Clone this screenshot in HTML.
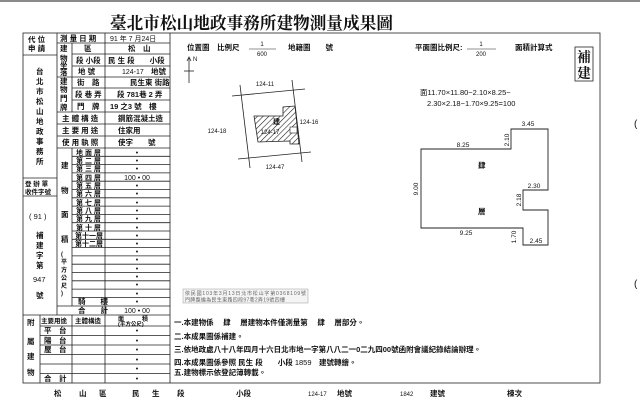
<!DOCTYPE html>
<html><head><meta charset="utf-8"><style>
html,body{margin:0;padding:0;background:#fff;}
svg{display:block;}
text{font-family:"Liberation Sans","Noto Sans CJK TC",sans-serif;fill:#111;}
.c{font-family:"Liberation Sans","Noto Sans CJK TC",sans-serif;font-weight:bold;font-size:7.5px;}
.n{font-size:7px;}
</style></head><body>
<svg width="640" height="406" viewBox="0 0 640 406" xmlns="http://www.w3.org/2000/svg">
<rect x="0" y="0" width="640" height="2" fill="#8a8a8a"/>
<text x="110" y="29" font-size="17" font-weight="bold" textLength="283" lengthAdjust="spacingAndGlyphs" style="font-family:'Noto Serif CJK SC','Noto Sans CJK TC',serif">臺北市松山地政事務所建物測量成果圖</text>
<g stroke="#222" fill="none" stroke-width="0.8">
<rect x="23" y="33" width="577" height="350"/>
<line x1="170" y1="33" x2="170" y2="383"/>
<line x1="57" y1="33" x2="57" y2="315"/>
<line x1="105" y1="33" x2="105" y2="383"/>
<line x1="72" y1="43" x2="72" y2="112"/>
<line x1="72" y1="148" x2="72" y2="306"/>
<line x1="72" y1="315" x2="72" y2="383"/>
<line x1="40" y1="315" x2="40" y2="383"/>
<line x1="23" y1="55" x2="57" y2="55"/>
<line x1="23" y1="178" x2="57" y2="178"/>
<line x1="23" y1="196" x2="57" y2="196"/>
<line x1="23" y1="315" x2="170" y2="315"/>
<line x1="40" y1="326" x2="170" y2="326"/>
<line x1="57" y1="43" x2="170" y2="43"/>
<line x1="72" y1="54" x2="170" y2="54"/>
<line x1="72" y1="66" x2="170" y2="66"/>
<line x1="57" y1="77" x2="170" y2="77"/>
<line x1="72" y1="88" x2="170" y2="88"/>
<line x1="72" y1="100" x2="170" y2="100"/>
<line x1="57" y1="112" x2="170" y2="112"/>
<line x1="57" y1="124" x2="170" y2="124"/>
<line x1="57" y1="136" x2="170" y2="136"/>
<line x1="57" y1="148" x2="170" y2="148"/>
<line x1="72" y1="156.3" x2="170" y2="156.3"/>
<line x1="72" y1="164.6" x2="170" y2="164.6"/>
<line x1="72" y1="172.9" x2="170" y2="172.9"/>
<line x1="72" y1="181.2" x2="170" y2="181.2"/>
<line x1="72" y1="189.5" x2="170" y2="189.5"/>
<line x1="72" y1="197.8" x2="170" y2="197.8"/>
<line x1="72" y1="206.1" x2="170" y2="206.1"/>
<line x1="72" y1="214.4" x2="170" y2="214.4"/>
<line x1="72" y1="222.7" x2="170" y2="222.7"/>
<line x1="72" y1="231" x2="170" y2="231"/>
<line x1="72" y1="239.3" x2="170" y2="239.3"/>
<line x1="72" y1="247.6" x2="170" y2="247.6"/>
<line x1="72" y1="255.9" x2="170" y2="255.9"/>
<line x1="72" y1="264.2" x2="170" y2="264.2"/>
<line x1="72" y1="272.5" x2="170" y2="272.5"/>
<line x1="72" y1="280.8" x2="170" y2="280.8"/>
<line x1="72" y1="289.1" x2="170" y2="289.1"/>
<line x1="72" y1="297.4" x2="170" y2="297.4"/>
<line x1="57" y1="306" x2="170" y2="306"/>
<line x1="40" y1="335.5" x2="170" y2="335.5"/>
<line x1="40" y1="345" x2="170" y2="345"/>
<line x1="40" y1="354.5" x2="170" y2="354.5"/>
<line x1="40" y1="364" x2="170" y2="364"/>
<line x1="40" y1="373.5" x2="170" y2="373.5"/>
</g>
<g class="c">
<text x="28" y="42">代 位</text><text x="28" y="51">申 請</text>
<text x="60" y="41">測 量 日 期</text><text x="110" y="41" class="n" font-weight="normal">91 年 7 月24日</text>
<text x="60" y="51">建</text><text x="60" y="61">物</text><text x="60" y="68">坐</text><text x="60" y="75">落</text>
<text x="84" y="51">區</text><text x="128" y="51">松　山</text>
<text x="76" y="63">段 小段</text><text x="108" y="63">民 生 段　　小段</text>
<text x="78" y="74">地 號</text><text x="122" y="74" font-weight="normal" font-size="7">124-17</text><text x="151" y="74">地號</text>
<text x="60" y="84">建</text><text x="60" y="92">物</text><text x="60" y="101">門</text><text x="60" y="110">牌</text>
<text x="77" y="85">街　路</text><text x="130" y="85">民生東 街路</text>
<text x="75" y="97">段 巷 弄</text><text x="117" y="97">段 781巷 2 弄</text>
<text x="77" y="109">門　牌</text><text x="110" y="109">19 之3 號　樓</text>
<text x="62" y="121">主 體 構 造</text><text x="118" y="121">鋼筋混凝土造</text>
<text x="62" y="133">主 要 用 途</text><text x="118" y="133">住家用</text>
<text x="62" y="145">使 用 執 照</text><text x="118" y="145">使字　　號</text>
<text x="36" y="74">台</text><text x="36" y="84">北</text><text x="36" y="94">市</text><text x="36" y="104">松</text><text x="36" y="114">山</text><text x="36" y="124">地</text><text x="36" y="134">政</text><text x="36" y="144">事</text><text x="36" y="154">務</text><text x="36" y="164">所</text>
<text x="25" y="186" font-size="6.5">登 辦 單</text><text x="25" y="194" font-size="6.5">收件字號</text>
<text x="29" y="219" font-weight="normal">( 91 )</text>
<text x="36" y="238">補</text><text x="36" y="248">建</text><text x="36" y="258">字</text><text x="36" y="268">第</text>
<text x="33" y="282" font-weight="normal">947</text>
<text x="36" y="298">號</text>
<text x="61" y="168">建</text><text x="61" y="193">物</text><text x="61" y="217">面</text><text x="61" y="242">積</text>
<text x="61" y="256" font-size="6">(</text><text x="61" y="264" font-size="6">平</text><text x="61" y="272" font-size="6">方</text><text x="61" y="280" font-size="6">公</text><text x="61" y="288" font-size="6">尺</text><text x="61" y="295" font-size="6">)</text>
<text x="76" y="155" font-size="7">地 面 層</text>
<text x="76" y="163" font-size="7">第 二 層</text>
<text x="76" y="171" font-size="7">第 三 層</text>
<text x="76" y="180" font-size="7">第 四 層</text>
<text x="76" y="188" font-size="7">第 五 層</text>
<text x="76" y="196" font-size="7">第 六 層</text>
<text x="76" y="205" font-size="7">第 七 層</text>
<text x="76" y="213" font-size="7">第 八 層</text>
<text x="76" y="221" font-size="7">第 九 層</text>
<text x="76" y="230" font-size="7">第 十 層</text>
<text x="75" y="238" font-size="7">第十一層</text>
<text x="75" y="246" font-size="7">第十二層</text>
<text x="78" y="304">騎　　樓</text>
<text x="78" y="313">合　　計</text>
<text x="27" y="325">附</text><text x="27" y="344">屬</text><text x="27" y="359">建</text><text x="27" y="375">物</text>
<text x="41" y="323" font-size="6.5">主要用途</text><text x="75" y="323" font-size="6.5">主體構造</text>
<text x="118" y="321" font-size="6">面　　　積</text><text x="118" y="326" font-size="5.5">(平方公尺)</text>
<text x="44" y="333">平　台</text><text x="44" y="343">陽　台</text><text x="44" y="352">屋　台</text><text x="44" y="381">合　計</text>
</g>
<g font-size="7" text-anchor="middle">
<text x="137" y="155">•</text><text x="137" y="163">•</text><text x="137" y="171">•</text><text x="137" y="180">100 • 00</text>
<text x="137" y="188">•</text><text x="137" y="196">•</text><text x="137" y="205">•</text><text x="137" y="213">•</text><text x="137" y="221">•</text><text x="137" y="230">•</text><text x="137" y="238">•</text><text x="137" y="246">•</text><text x="137" y="254">•</text><text x="137" y="262">•</text><text x="137" y="271">•</text><text x="137" y="279">•</text><text x="137" y="287">•</text><text x="137" y="296">•</text><text x="137" y="304">•</text><text x="137" y="313">100 • 00</text>
<text x="137" y="333">•</text><text x="137" y="343">•</text><text x="137" y="352">•</text><text x="137" y="362">•</text><text x="137" y="371">•</text><text x="137" y="381">•</text>
</g>
<g class="c" font-size="6.5">
<text x="187" y="50">位置圖　比例尺</text>
<text x="262" y="46" font-weight="normal" text-anchor="middle" font-size="6">1</text>
<text x="262" y="56" font-weight="normal" text-anchor="middle" font-size="6">600</text>
<text x="288" y="50">地籍圖　　號</text>
<text x="415" y="50">平面圖比例尺:</text>
<text x="481" y="46" font-weight="normal" text-anchor="middle" font-size="6">1</text>
<text x="481" y="56" font-weight="normal" text-anchor="middle" font-size="6">200</text>
<text x="515" y="50">面積計算式</text>
</g>
<line x1="249" y1="49" x2="276" y2="49" stroke="#222" stroke-width="0.6"/>
<line x1="467" y1="49" x2="496" y2="49" stroke="#222" stroke-width="0.6"/>
<rect x="575" y="47" width="18" height="34" fill="none" stroke="#222" stroke-width="0.8"/>
<text x="577" y="62" font-size="14" font-weight="bold" style="font-family:'Noto Serif CJK SC',serif">補</text>
<text x="577" y="78" font-size="14" font-weight="bold" style="font-family:'Noto Serif CJK SC',serif">建</text>
<g stroke="#222" stroke-width="0.8" fill="none">
<line x1="189" y1="58" x2="189" y2="83"/><line x1="184" y1="71" x2="194" y2="71"/>
<polyline points="187,61 189,57 191,61"/>
</g>
<text x="193" y="61" font-size="6">N</text>
<g stroke="#222" stroke-width="0.8" fill="none">
<line x1="232" y1="96" x2="305" y2="89"/>
<line x1="240" y1="85" x2="250" y2="168"/>
<line x1="292" y1="80" x2="302" y2="162"/>
<line x1="238" y1="159" x2="311" y2="152"/>
</g>
<defs><pattern id="h" width="4" height="4" patternUnits="userSpaceOnUse" patternTransform="rotate(45)"><line x1="0" y1="0" x2="0" y2="4" stroke="#222" stroke-width="1.2"/></pattern></defs>
<polygon points="254,116 283,116 283,107 295,106 299,144 290,144 290,141 258,142" fill="url(#h)" stroke="#222" stroke-width="0.8"/>
<rect x="290" y="127" width="7" height="6" fill="#fff" stroke="#222" stroke-width="0.6"/>
<g font-size="6" text-anchor="middle">
<text x="265" y="86">124-11</text><text x="217" y="133">124-18</text><text x="309" y="124">124-16</text><text x="275" y="169">124-47</text>
<text x="270" y="134" fill="#444">124-17</text>
</g>
<text x="273" y="124" font-size="7" font-weight="bold" style="font-family:'Noto Sans CJK TC',sans-serif">建</text>
<g font-size="7.5">
<text x="420" y="95">面11.70×11.80−2.10×8.25−</text>
<text x="427" y="106">2.30×2.18−1.70×9.25=100</text>
</g>
<polygon points="421,149 511,149 511,129 548,129 548,190 523,190 523,210 548,210 548,245 523,245 523,228 421,228" fill="none" stroke="#222" stroke-width="0.9"/>
<g font-size="6.5" text-anchor="middle">
<text x="463" y="147">8.25</text><text x="528" y="126">3.45</text><text x="534" y="188">2.30</text><text x="466" y="235">9.25</text><text x="536" y="243">2.45</text>
<text transform="translate(509,140) rotate(-90)">2.10</text>
<text transform="translate(418,189) rotate(-90)">9.00</text>
<text transform="translate(521,200) rotate(-90)">2.18</text>
<text transform="translate(516,237) rotate(-90)">1.70</text>
</g>
<g class="c" font-size="9"><text x="478" y="168">肆</text><text x="478" y="214">層</text></g>
<rect x="183" y="289" width="125" height="14" fill="#f4f4f4" stroke="#999" stroke-width="0.5"/>
<text x="185" y="295" font-size="5" textLength="121" style="fill:#666">依民國103年3月13日北市松山字第0368109號</text>
<text x="185" y="301.5" font-size="5" textLength="100" style="fill:#666">門牌整編為民生東路四段97巷2弄19號四樓</text>
<g class="c" font-size="6.5">
<text x="174" y="325">一.本建物係　 肆　 層建物本件僅測量第　 肆　 層部分。</text>
<text x="174" y="339">二.本成果圖係補建。</text>
<text x="174" y="352">三.依地政處八十八年四月十六日北市地一字第八八二一0二九四00號函附會議紀錄結論辦理。</text>
<text x="174" y="365">四.本成果圖係參照 民生 段　　小段 <tspan font-weight="normal">1859</tspan>　建號轉繪。</text>
<text x="174" y="375">五.建物標示依登記簿轉載。</text>
</g>
<g class="c" font-size="7">
<text x="54" y="396">松</text><text x="79" y="396">山</text><text x="99" y="396">區</text><text x="132" y="396">民</text><text x="152" y="396">生</text><text x="177" y="396">段</text>
<text x="236" y="396">小段</text><text x="308" y="396" font-weight="normal" font-size="6">124-17</text><text x="337" y="396">地號</text>
<text x="400" y="396" font-weight="normal" font-size="6">1842</text><text x="430" y="396">建號</text><text x="507" y="396">棟次</text>
</g>
<text x="634" y="127" font-size="10">(</text>
<text x="634" y="287" font-size="10">(</text>
</svg>
</body></html>
